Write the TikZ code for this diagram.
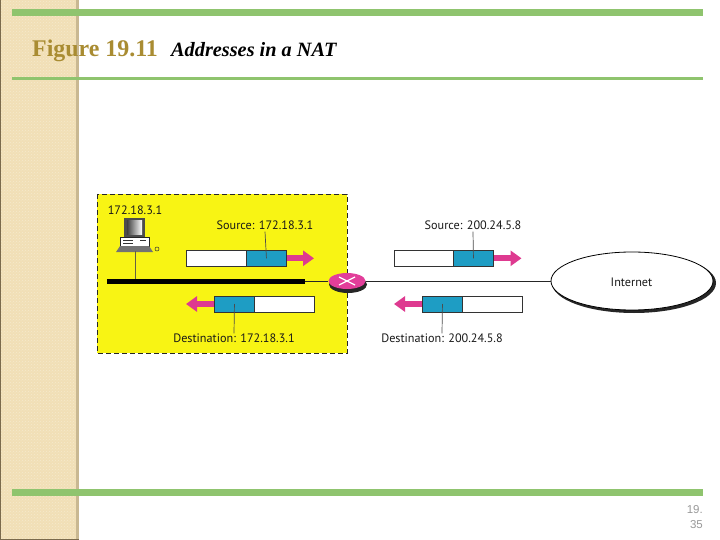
\documentclass[tikz,border=0pt]{standalone}
\usepackage{fontspec}
\setmainfont{Liberation Serif}
\newfontfamily\labelfont{PT Sans}
\newfontfamily\numfont{Liberation Sans}
\usetikzlibrary{arrows.meta,shapes.geometric,patterns}
\definecolor{band}{HTML}{F1DFB6}
\definecolor{bandedge}{HTML}{C9B892}
\definecolor{bandline}{HTML}{7A6A4C}
\definecolor{bar}{HTML}{8FC46E}
\definecolor{titlegold}{HTML}{A98C32}
\definecolor{lanyellow}{HTML}{F8F414}
\definecolor{teal}{HTML}{1E9DC4}
\definecolor{pinkarrow}{HTML}{DE3A90}
\definecolor{pinkrouter}{HTML}{E23E9A}
\tikzset{
  lbl/.style={font=\labelfont\fontsize{12.2}{13}\selectfont,text=black!90,inner sep=0pt},
  whitebox/.style={draw=black!80,line width=0.9pt,fill=white,minimum height=16pt,inner sep=0pt,minimum width=60pt},
  tealbox/.style={draw=black!80,line width=0.9pt,fill=teal,minimum height=16pt,inner sep=0pt,minimum width=40pt},
  flow/.style={draw=pinkarrow,line width=6pt,-{Triangle[length=11pt,width=15pt,fill=pinkarrow]},shorten >=0pt},
  leader/.style={draw=black!70,line width=0.7pt},
  wire/.style={draw=black!85,line width=1pt},
  greenbar/.style={fill=bar,draw=none}
}
\begin{document}
\begin{tikzpicture}[x=1pt,y=-1pt]
\useasboundingbox (0,0) rectangle (720,540);
\fill[white] (0,0) rectangle (720,540);
% side band
\fill[band] (0,0) rectangle (77,540);
\fill[pattern=crosshatch dots,pattern color=white!30!band] (0,0) rectangle (77,540);
\fill[bandedge] (76,0) rectangle (79,540);
\fill[bandline] (0,0) rectangle (1.2,540);
\fill[bandline] (0,538.5) rectangle (79,540);
% green bars
\fill[greenbar] (12,9) rectangle (703,16);
\fill[greenbar] (12,77) rectangle (703,80);
\fill[greenbar] (12,489) rectangle (703,496);
% title
\node[anchor=base west,inner sep=0pt,text=titlegold,font=\bfseries\fontsize{23.9}{25}\selectfont] (fig) at (32,57) {Figure 19.11};
\node[anchor=base west,inner sep=0pt,text=black,font=\bfseries\itshape\fontsize{20.3}{22}\selectfont] (cap) at (171,56.5) {Addresses in a NAT};
% page number
\node[anchor=base east,inner sep=0pt,text=black!40,font=\numfont\fontsize{11.5}{12}\selectfont] (p1) at (703,513) {19.};
\node[anchor=base east,inner sep=0pt,text=black!40,font=\numfont\fontsize{11.5}{12}\selectfont] (p2) at (703,528) {35};
% private network
\fill[lanyellow] (97,194) rectangle (347,353);
\draw[black!85,line width=0.9pt,dash pattern=on 5pt off 3pt] (97,194) rectangle (347,353);
\node[lbl] (hostip) at (135,210.5) {172.18.3.1};
% computer
\coordinate (pc) at (135,251);
\fill[black!70] (124,218) rectangle (145,237);
\shade[left color=black!75,right color=white] (127,220.5) rectangle (142,234);
\fill[white,draw=black!85,line width=0.6pt] (120.5,237) rectangle (149,246);
\draw[black!80,line width=0.7pt] (123,240) -- (133,240) (123,243) -- (133,243) (140,240) -- (146,240);
\fill[black!55] (120,246) -- (149,246) -- (153,252) -- (116,252) -- cycle;
\draw[black!80,line width=0.5pt] (157,249) circle (2pt);
% bus, router, internet
\fill[black] (107,278.5) rectangle (305,283.5);
\coordinate (busR) at (305,281);
\coordinate (busT) at (135,279);
\draw[draw=black!70!yellow,line width=0.9pt] (pc) -- (busT);
\fill[black!85] (348,284.5) ellipse [x radius=19,y radius=8.5];
\node[ellipse,fill=pinkrouter,minimum width=37pt,minimum height=16pt,inner sep=0pt] (router) at (347,281) {};
\draw[white,line width=1.2pt] (339,277) -- (355,285) (339,285) -- (355,277);
\fill[black!85] (634,283) ellipse [x radius=82,y radius=30];
\node[ellipse,draw=black,line width=0.8pt,fill=white,minimum width=162pt,minimum height=58pt,inner sep=0pt] (net) at (632,281) {};
\node[lbl] (nettxt) at (631.5,282) {Internet};
\draw[wire] (busR) -- (router);
\draw[wire] (router) -- (net.west);
% upper left packet
\node[whitebox,anchor=west] (a1) at (186,258.3) {};
\node[tealbox,anchor=west] (a2) at (246,258.3) {};
\coordinate (a3) at (314,258.3);
\draw[flow] (a2.east) -- (a3);
\node[lbl] (a4) at (265,225) {Source: 172.18.3.1};
\draw[leader] (a4.south) ++(0,2) coordinate (a5) (a5) -- (a2.center);
% lower left packet
\node[whitebox,anchor=west] (b1) at (254,304) {};
\node[tealbox,anchor=west] (b2) at (214,304) {};
\coordinate (b3) at (186,304);
\draw[flow] (b2.west) -- (b3);
\node[lbl] (b4) at (234,338) {Destination: 172.18.3.1};
\draw[leader] (b2.center) -- (b4.north);
% upper right packet
\node[whitebox,anchor=west] (c1) at (393.5,258.3) {};
\node[tealbox,anchor=west] (c2) at (453,258.3) {};
\coordinate (c3) at (521.5,258.3);
\draw[flow] (c2.east) -- (c3);
\node[lbl] (c4) at (473,225) {Source: 200.24.5.8};
\draw[leader] (c4.south) ++(0,2) coordinate (c5) (c5) -- (c2.center);
% lower right packet
\node[whitebox,anchor=west] (d1) at (462,304) {};
\node[tealbox,anchor=west] (d2) at (422,304) {};
\coordinate (d3) at (394,304);
\draw[flow] (d2.west) -- (d3);
\node[lbl] (d4) at (442,338) {Destination: 200.24.5.8};
\draw[leader] (d2.center) -- (d4.north);
\end{tikzpicture}
\end{document}
